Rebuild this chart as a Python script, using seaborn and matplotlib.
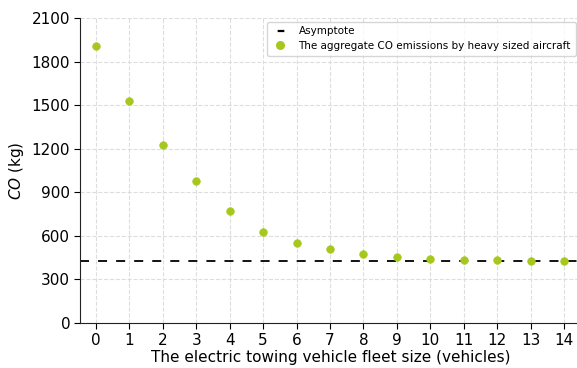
import matplotlib
matplotlib.use("Agg")
import matplotlib.pyplot as plt
from matplotlib.lines import Line2D
import seaborn as sns
import pandas as pd

fleet_size = list(range(15))
co_emissions = [1910, 1529, 1226, 978, 771, 624, 553, 510, 477, 452, 439, 432, 431, 430, 429]
asymptote = 428

sns.set_style("white")
plt.rcParams["font.family"] = ["DejaVu Sans"]
plt.rcParams["text.color"] = "black"
plt.rcParams["axes.labelcolor"] = "black"
plt.rcParams["xtick.color"] = "black"
plt.rcParams["ytick.color"] = "black"

df = pd.DataFrame({"fleet": fleet_size, "co": co_emissions})

fig = plt.figure(figsize=(5.77, 3.68), dpi=100)
ax = fig.add_axes([0.1386, 0.1223, 0.8678, 0.8288])

ax.axhline(asymptote, color="black", linestyle=(0, (5, 5)), linewidth=1.3, zorder=2)
sns.scatterplot(data=df, x="fleet", y="co", ax=ax, color="#a6c81e", s=30,
                edgecolor="#a6c81e", linewidth=0.5, zorder=3, legend=False)

ax.set_xlim(-0.48, 14.5)
ax.set_ylim(0, 2100)
ax.set_xticks(fleet_size)
ax.set_yticks(range(0, 2101, 300))
ax.tick_params(axis="both", labelsize=11, length=4, direction="out",
               bottom=True, left=True, pad=3)
ax.grid(True, linestyle="--", color="#dddddd", linewidth=0.8)
ax.set_axisbelow(True)
for side in ("top", "right"):
    ax.spines[side].set_visible(False)
for side in ("left", "bottom"):
    ax.spines[side].set_color("#222222")
    ax.spines[side].set_linewidth(0.8)

ax.set_xlabel("The electric towing vehicle fleet size (vehicles)", fontsize=11, labelpad=2)
ax.set_ylabel("$CO$ (kg)", fontsize=11, labelpad=4)

# legend proxies: a single short centred dash for the asymptote
asym_handle = Line2D([], [], color="black", linewidth=1.6, linestyle=(6, (3, 6)))
pts_handle = Line2D([], [], color="#a6c81e", marker="o", linestyle="none",
                    markersize=5.5)
leg = ax.legend([asym_handle, pts_handle],
                ["Asymptote", "The aggregate CO emissions by heavy sized aircraft"],
                loc="upper right", bbox_to_anchor=(1.003, 0.95),
                bbox_transform=fig.transFigure, fontsize=7.5, handlelength=1.6,
                handletextpad=1.0, frameon=True, borderaxespad=0.3,
                borderpad=0.45, labelspacing=0.45)
leg.get_frame().set_edgecolor("#cccccc")

fig.savefig("out.png", dpi=100)
